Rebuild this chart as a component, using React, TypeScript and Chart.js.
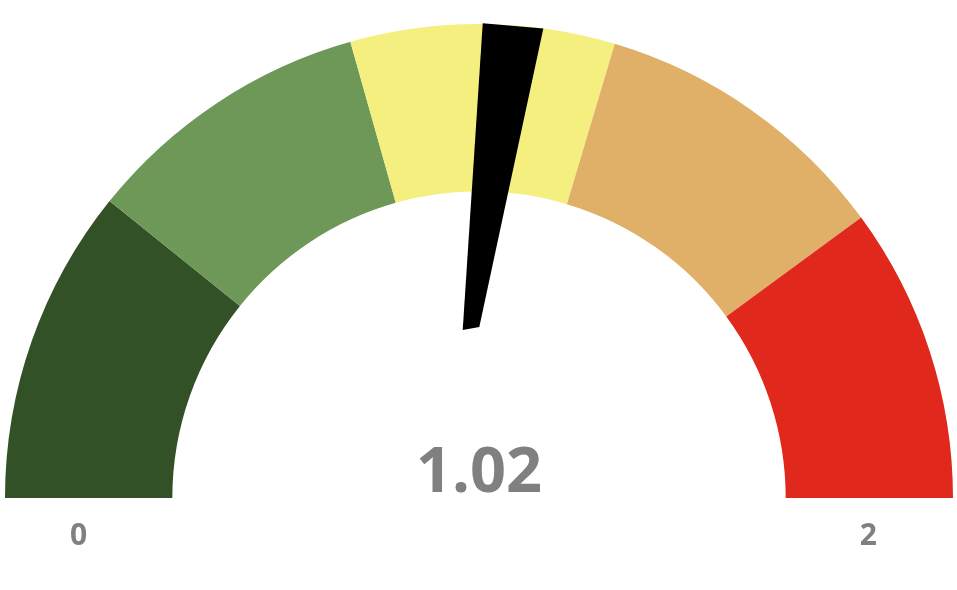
import React, { useEffect, useRef } from "react";
import { Chart, registerables } from "chart.js";

Chart.register(...registerables);

// Gauge bands (upper thresholds of each coloured band) and colours
const bandLabels = ["Very low", "Low", "Medium", "High", "Very high"];
const bandThresholds = [0.431, 0.825, 1.185, 1.597, 2.0];
const bandColors = ["#335126", "#6E9858", "#F5EF80", "#E0B068", "#E0281C"];
const gaugeMin = 0;
const gaugeMax = 2;
const gaugeValue = 1.02;
const tickLabels = ["0", "2"];

const bandValues = bandThresholds.map((t, i) => +(t - (i === 0 ? gaugeMin : bandThresholds[i - 1])).toFixed(4));

const TEXT_GREY = "#808080";
const FONT = "'Open Sans', 'DejaVu Sans', sans-serif";

// needle shape: [angle offset in degrees (counter-clockwise), radius fraction]
const needleShape: [number, number][] = [
  [1.35, 1.0015],
  [-6.0, 1.0],
  [1.7, 0.361],
  [7.34, 0.356],
];

const gaugePlugin = {
  id: "gaugeNeedle",
  afterDatasetsDraw(chart: any) {
    const meta = chart.getDatasetMeta(0);
    const arc = meta.data[0];
    if (!arc) return;
    const { x: cx, y: cy, outerRadius, innerRadius } = arc.getProps(["x", "y", "outerRadius", "innerRadius"], true);
    const ctx = chart.ctx as CanvasRenderingContext2D;
    const frac = (gaugeValue - gaugeMin) / (gaugeMax - gaugeMin);
    const a = -Math.PI + frac * Math.PI;
    ctx.save();
    ctx.beginPath();
    needleShape.forEach(([deg, rf], i) => {
      const ang = a - (deg * Math.PI) / 180;
      const px = cx + Math.cos(ang) * outerRadius * rf;
      const py = cy + Math.sin(ang) * outerRadius * rf;
      if (i === 0) ctx.moveTo(px, py);
      else ctx.lineTo(px, py);
    });
    ctx.closePath();
    ctx.fillStyle = "#000000";
    ctx.fill();

    // value text
    ctx.fillStyle = TEXT_GREY;
    ctx.textAlign = "center";
    ctx.textBaseline = "alphabetic";
    ctx.font = `bold 63px ${FONT}`;
    ctx.fillText(gaugeValue.toFixed(2), cx, cy - 6);

    // min / max labels
    ctx.font = `bold 30px ${FONT}`;
    const mid = (outerRadius + innerRadius) / 2;
    ctx.fillText(tickLabels[0], cx - mid - 10, cy + 47);
    ctx.fillText(tickLabels[1], cx + mid - 1, cy + 47);
    ctx.restore();
  },
};

export default function App() {
  const ref = useRef<HTMLCanvasElement | null>(null);
  useEffect(() => {
    if (!ref.current) return;
    const chart = new Chart(ref.current, {
      type: "doughnut",
      data: {
        labels: bandLabels,
        datasets: [
          {
            data: bandValues,
            backgroundColor: bandColors,
            borderWidth: 0,
          },
        ],
      },
      options: {
        responsive: false,
        animation: false,
        rotation: -90,
        circumference: 180,
        cutout: "64.7%",
        layout: { padding: { left: 5, right: 4, top: 24, bottom: 92 } },
        plugins: {
          legend: { display: false },
          tooltip: { enabled: false },
        },
      },
      plugins: [gaugePlugin],
    });
    return () => chart.destroy();
  }, []);
  return (
    <div style={{ position: "absolute", left: 0, top: 0, width: 957, height: 590, background: "#fff" }}>
      <canvas ref={ref} width={957} height={590} />
    </div>
  );
}
